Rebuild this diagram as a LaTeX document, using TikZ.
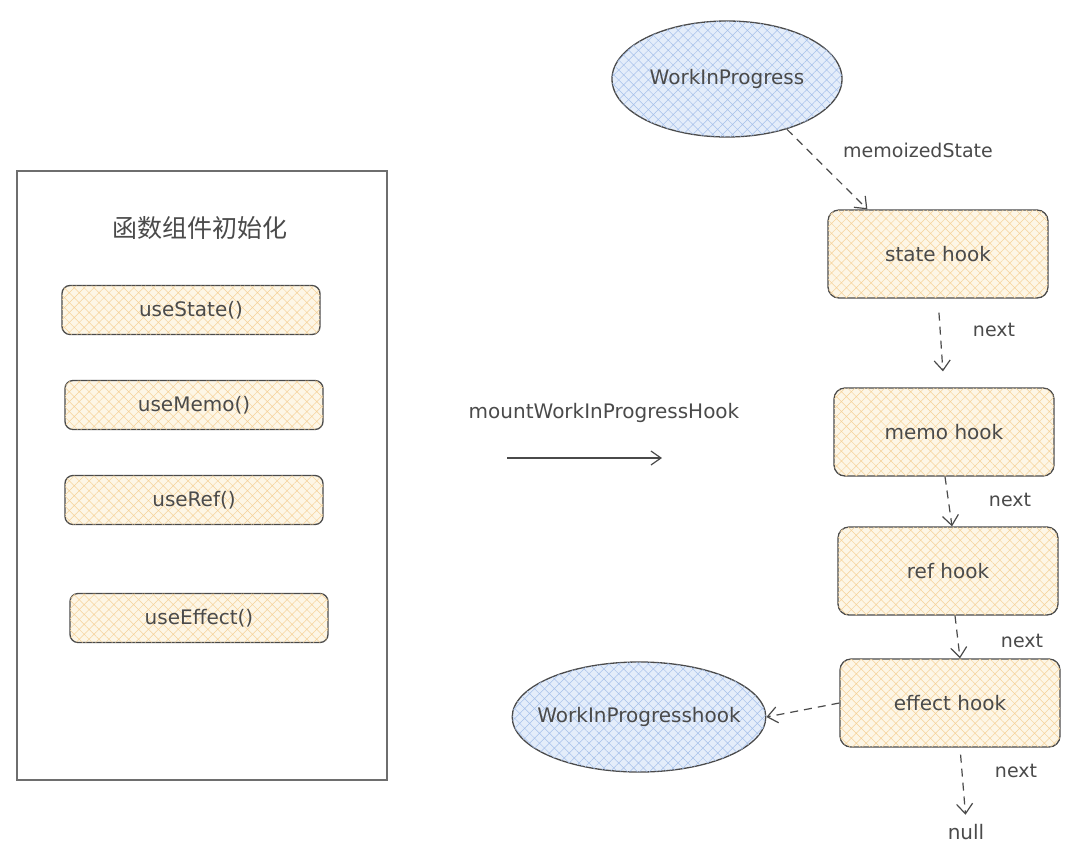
\documentclass[tikz,border=0pt]{standalone}
\usepackage{fontspec}
\setmainfont{DejaVu Sans}
\newfontfamily\cjk{Noto Sans CJK SC}
\usetikzlibrary{positioning, shapes.geometric, arrows.meta, patterns.meta}

\definecolor{inkgray}{HTML}{4A4A4A}
\definecolor{hookfill}{HTML}{FDF6E6}
\definecolor{hookhatch}{HTML}{F5D29A}
\definecolor{wipfill}{HTML}{E4EDFA}
\definecolor{wiphatch}{HTML}{A6C0EA}

\begin{document}
\begin{tikzpicture}[x=1pt, y=-1pt,
	every node/.style={font=\fontsize{20}{24}\selectfont, text=inkgray},
	hatched/.style={postaction={pattern={Hatch[angle=45, distance=7pt, line width=.5pt]}, pattern color=#1}},
	hook/.style={draw=inkgray, line width=1.3pt, rounded corners=11pt, fill=hookfill, hatched=hookhatch,
		minimum width=220pt, minimum height=88pt},
	usebox/.style={draw=inkgray, line width=1.3pt, rounded corners=8pt, fill=hookfill, hatched=hookhatch,
		minimum width=258pt, minimum height=49pt},
	wip/.style={ellipse, draw=inkgray, line width=1.3pt, fill=wipfill, hatched=wiphatch, inner sep=0pt},
	link/.style={draw=inkgray, line width=1.2pt, dash pattern=on 8pt off 6pt, -{Straight Barb[length=10pt, width=16pt]}},
	tag/.style={font=\fontsize{19}{22}\selectfont}
	]
	\useasboundingbox (0,0) rectangle (1089,857);

	% left: component
	\node (frame) [draw=inkgray!80, line width=1.3pt, minimum width=370pt, minimum height=609pt] at (202,475.5) {};
	\node (title) at (200,228) {\cjk\fontsize{25}{28}\selectfont 函数组件初始化};
	\node (useState) [usebox] at (191,310) {useState()};
	\node (useMemo) [usebox] at (194,405) {useMemo()};
	\node (useRef) [usebox] at (194,500) {useRef()};
	\node (useEffect) [usebox] at (199,618) {useEffect()};

	% middle
	\node (mount) at (604,413) {mountWorkInProgressHook};
	\coordinate (m0) at (507,458);
	\coordinate (m1) at (662,458);
	\draw[inkgray, line width=1.2pt, -{Straight Barb[length=10pt, width=14pt]}] (m0) -- (m1);

	% right: hook list
	\node (fiber) [wip, minimum width=230pt, minimum height=116pt] at (727,79) {WorkInProgress};
	\node (state) [hook] at (938,254) {state hook};
	\node (memo) [hook] at (944,432) {memo hook};
	\node (ref) [hook] at (948,571) {ref hook};
	\node (effect) [hook] at (950,703) {effect hook};
	\node (wiphook) [wip, inner xsep=-12pt, minimum height=110pt] at (639,717) {WorkInProgresshook};
	\node (null) at (966,832) {null};

	\draw[link] (fiber.-40) -- ([xshift=40pt]state.north west);
	\draw[link, shorten <=14pt, shorten >=16pt] (state.south) -- (memo.north);
	\draw[link] ([xshift=1pt]memo.south) -- ([xshift=4pt]ref.north);
	\draw[link] ([xshift=7pt]ref.south) -- ([xshift=10pt]effect.north);
	\draw[link, shorten <=7pt, shorten >=6pt] ([xshift=10pt]effect.south) -- (null.north);
	\draw[link] (effect.west) -- (wiphook.east);

	\node (tagState) [tag] at (918,150) {memoizedState};
	\node (tagNext1) [tag] at (994,330) {next};
	\node (tagNext2) [tag] at (1010,500) {next};
	\node (tagNext3) [tag] at (1022,641) {next};
	\node (tagNext4) [tag] at (1016,771) {next};
\end{tikzpicture}
\end{document}
